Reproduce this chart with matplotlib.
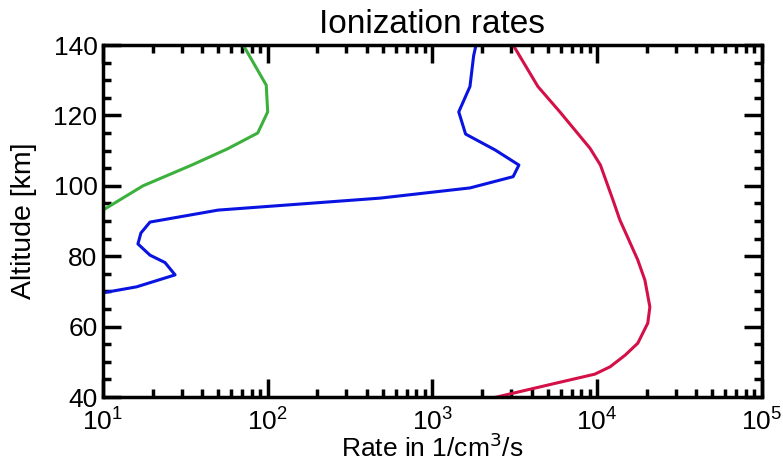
import numpy as np
import matplotlib.pyplot as plt
from matplotlib.ticker import LogLocator, MultipleLocator

plt.rcParams['font.family'] = ['Liberation Sans', 'DejaVu Sans']

# green profile
green_alt = [140, 128.6, 121, 115, 110.5, 106, 100, 93.1]
green_rate = [71, 98, 100, 87, 57, 35, 17.5, 10]

# blue profile
blue_alt = [140, 137, 128.2, 121, 114.7, 110.2, 105.9, 102.6, 99.4, 96.5, 93.1,
            89.7, 86.6, 83.5, 80.3, 78.2, 74.7, 71.3, 69.6]
blue_rate = [1840, 1780, 1690, 1445, 1590, 2400, 3350, 3090, 1690, 480, 50,
             19.3, 17, 16.3, 19.3, 23.8, 27.4, 16, 10]

# red profile
red_alt = [140, 128.2, 121, 110.7, 105.9, 96, 90.3, 85.2, 78.9, 73.2, 65.6,
           61.0, 55.3, 51.9, 48.6, 46.5, 44, 40]
red_rate = [3090, 4370, 5940, 9040, 10470, 12470, 13740, 15380, 17660, 19500, 20900,
            20300, 17660, 14800, 12000, 9690, 5700, 2460]

fig = plt.figure(figsize=(7.83, 4.65), dpi=100)
ax = fig.add_axes([0.1315, 0.1462, 0.8415, 0.757])

ax.plot(green_rate, green_alt, color='#3cb03c', lw=2.2)
ax.plot(blue_rate, blue_alt, color='#0a14e0', lw=2.2)
ax.plot(red_rate, red_alt, color='#d41048', lw=2.2)

ax.set_xscale('log')
ax.set_xlim(10, 1e5)
ax.set_ylim(40, 140)
ax.yaxis.set_major_locator(MultipleLocator(20))
ax.yaxis.set_minor_locator(MultipleLocator(5))
ax.xaxis.set_major_locator(LogLocator(base=10, numticks=10))
ax.xaxis.set_minor_locator(LogLocator(base=10, subs=np.arange(2, 10), numticks=10))

for s in ax.spines.values():
    s.set_linewidth(2.5)
ax.tick_params(which='both', direction='in', top=True, right=True, width=2.5,
               labelsize=19)
ax.tick_params(axis='x', pad=8)
ax.tick_params(axis='y', pad=4)
ax.tick_params(which='major', length=13)
ax.tick_params(which='minor', length=6)

ax.set_title('Ionization rates', fontsize=24, pad=9)
ax.set_xlabel('Rate in 1/cm$^3$/s', fontsize=19, labelpad=-1)
ax.set_ylabel('Altitude [km]', fontsize=20.5, labelpad=12)

fig.savefig('out.png', dpi=100)
